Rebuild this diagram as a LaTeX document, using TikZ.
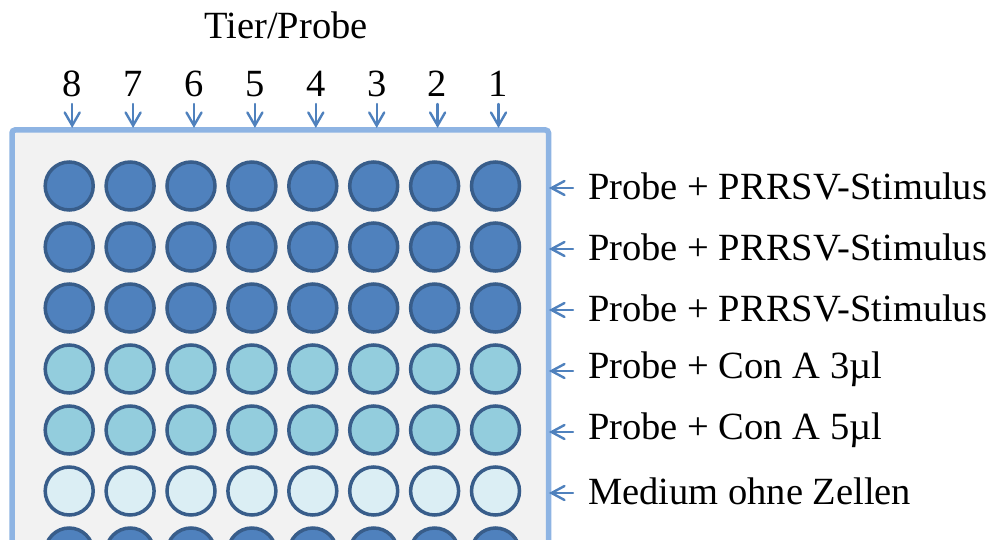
\documentclass[tikz,border=0pt]{standalone}
\usepackage{fontspec}
\setmainfont{Liberation Serif}
\definecolor{wellDark}{HTML}{4F81BD}
\definecolor{wellMid}{HTML}{93CDDD}
\definecolor{wellLight}{HTML}{DBEEF4}
\definecolor{wellEdge}{HTML}{385D8A}
\definecolor{plateEdge}{HTML}{8EB4E3}
\definecolor{plateFill}{HTML}{F2F2F2}
\definecolor{arrowBlue}{HTML}{4F81BD}
\tikzset{
  well/.style={circle, draw=wellEdge, line width=3.5pt, minimum size=48pt, inner sep=0pt},
  pointer/.style={draw=arrowBlue, line width=2.4pt, line cap=round, line join=miter},
  txt/.style={font=\fontsize{38.5}{42}\selectfont, inner sep=0pt},
}
\begin{document}
\begin{tikzpicture}[x=1pt,y=-1pt]
\useasboundingbox (0,0) rectangle (995,540);
\fill[white] (0,0) rectangle (995,540);
% plate body
\draw[plateEdge, fill=plateFill, line width=5.5pt, rounded corners=3pt] (12,130) rectangle (548.5,620);
% wells: 7 visible rows x 8 columns
\foreach \r/\col in {1/wellDark,2/wellDark,3/wellDark,4/wellMid,5/wellMid,6/wellLight,7/wellDark}{
  \foreach \c in {1,...,8}{
    \node[well, fill=\col] (w-\r-\c) at ({495.5-(\c-1)*60.9},{186+(\r-1)*61}) {};
  }
}
% column numbers with downward pointers (open barbed heads)
\node[txt] (title) at (286,25) {Tier/Probe};
\foreach \c in {1,...,8}{
  \node[txt, anchor=base] (n\c) at ({498.5-(\c-1)*60.9},97) {\c};
  \coordinate (tail\c) at ({498.5-(\c-1)*60.9},104);
  \coordinate (top\c) at ({498.5-(\c-1)*60.9},125.5);
  \draw[pointer] (tail\c) -- (top\c);
  \draw[pointer] (top\c) ++(-7.5,-13) -- (top\c) -- ++(7.5,-13);
}
% row labels with leftward pointers
\foreach \r/\t in {1/{Probe + PRRSV-Stimulus},2/{Probe + PRRSV-Stimulus},3/{Probe + PRRSV-Stimulus},4/{Probe + Con A 3µl},5/{Probe + Con A 5µl},6/{Medium ohne Zellen}}{
  \node[txt, anchor=west] (lab\r) at (588,{186+(\r-1)*61}) {\t};
  \coordinate (from\r) at (573,{188+(\r-1)*61});
  \coordinate (side\r) at (551.5,{188+(\r-1)*61});
  \draw[pointer] (from\r) -- (side\r);
  \draw[pointer] (side\r) ++(13,-7) -- (side\r) -- ++(13,7);
}
\end{tikzpicture}
\end{document}
